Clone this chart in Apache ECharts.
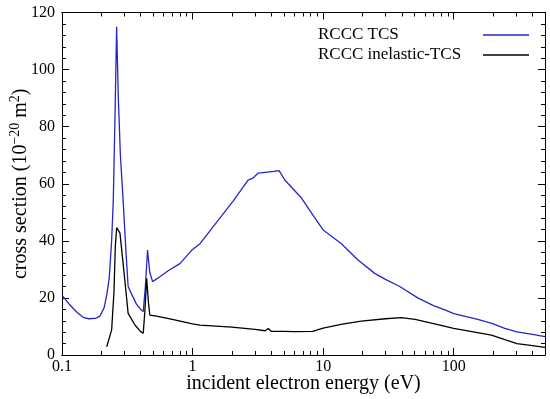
<!DOCTYPE html>
<html>
<head>
<meta charset="utf-8">
<script src="https://cdn.jsdelivr.net/npm/echarts@6/dist/echarts.min.js"></script>
<style>html,body{margin:0;padding:0;background:#fff}#c{width:550px;height:399px}</style>
</head>
<body>
<div id="c"></div>
<script>
// Data (energy in eV, cross section in 1e-20 m^2)
const tcsE = [0.1,0.115,0.13,0.145,0.16,0.18,0.195,0.21,0.22,0.23,0.24,0.247,0.255,0.262,0.27,0.28,0.294,0.31,0.321,0.34,0.37,0.4,0.419,0.435,0.452,0.47,0.494,0.562,0.65,0.8,1.0,1.14,1.5,2.05,2.66,2.9,3.0,3.17,3.6,4.2,4.6,5.08,6.83,8.5,10,13.8,18.5,24.8,30,38.6,53,70,85.6,100,150,196,246,305,400,500];
const tcsV = [21,17.5,15,13.2,12.7,12.8,13.6,16.5,21,27,40,54,85,115,90,70,54,35,24,21.5,18,16,15.2,24,36.8,29,25.7,27.4,29.5,32,37,39,46,54,61.3,62,62.3,63.7,64,64.3,64.6,61.3,55,48.5,43.8,39,33.3,28.6,26.5,24,20,17.3,15.8,14.5,12.6,11.1,9.3,8.1,7.2,6.4];
const inelE = [0.22,0.24,0.25,0.256,0.262,0.278,0.3,0.321,0.362,0.4,0.419,0.432,0.445,0.46,0.471,0.53,0.7,1.0,1.14,2.0,3.0,3.6,3.8,4.0,5.0,6.0,8.3,10,14,19.6,30,39.7,50.6,70,100,194,250,305,400,500];
const inelV = [2.9,8.8,22,38,44.6,42.7,28,14.6,10.5,8.2,7.6,16,26.9,18,14,13.6,12.5,10.9,10.5,9.8,9.0,8.5,9.3,8.3,8.3,8.2,8.3,9.4,10.8,11.9,12.7,13.1,12.5,11,9.3,7,5.3,4,3.3,2.7];
const seriesNames = ['RCCC TCS','RCCC inelastic-TCS'];
const xMajor = [0.1,1,10,100];
const xMinor = [0.2,0.3,0.4,0.5,0.6,0.7,0.8,0.9,2,3,4,5,6,7,8,9,20,30,40,50,60,70,80,90,200,300,400,500];

const font = 'Liberation Serif';
const pair = (xs, ys) => xs.map((x, i) => [x, ys[i]]);

const xBase = (pos, showLabel, ticks, len) => ({
  type: 'log', logBase: 10, min: 0.1, max: 500, position: pos,
  axisLine: {show: true, onZero: false, lineStyle: {color: '#000', width: 1}},
  axisTick: {show: true, inside: true, length: len, customValues: ticks, lineStyle: {color: '#000'}},
  axisLabel: {show: showLabel, customValues: xMajor, fontFamily: font, fontSize: 16, color: '#000', margin: 4,
    formatter: v => String(v)},
  splitLine: {show: false}, minorTick: {show: false}
});
const yBase = (pos, showLabel) => ({
  type: 'value', min: 0, max: 120, interval: 20, position: pos,
  axisLine: {show: true, onZero: false, lineStyle: {color: '#000', width: 1}},
  axisTick: {show: true, inside: true, length: 7, lineStyle: {color: '#000'}},
  minorTick: {show: true, splitNumber: 5, length: 4, lineStyle: {color: '#000'}},
  axisLabel: {show: showLabel, fontFamily: font, fontSize: 16, color: '#000', margin: 7},
  splitLine: {show: false}
});

const xAxes = [
  Object.assign(xBase('bottom', true, xMajor, 7), {
    name: 'incident electron energy (eV)', nameLocation: 'middle', nameGap: 19, nameMoveOverlap: false,
    nameTextStyle: {fontFamily: font, fontSize: 20, color: '#000'}
  }),
  xBase('bottom', false, xMinor, 4),
  xBase('top', false, xMajor, 7),
  xBase('top', false, xMinor, 4)
];
const yAxes = [
  Object.assign(yBase('left', true), {
    name: '{a|cross section (10}{s|−20}{a| m}{s|2}{a|)}', nameLocation: 'middle', nameGap: 29, nameMoveOverlap: false,
    nameTextStyle: {fontFamily: font, fontSize: 20, color: '#000',
      rich: {a: {fontFamily: font, fontSize: 20, color: '#000'},
             s: {fontFamily: font, fontSize: 14, color: '#000', padding: [0, 0, 11, 0]}}}
  }),
  yBase('right', false)
];

const chart = echarts.init(document.getElementById('c'), null, {renderer: 'canvas'});
chart.setOption({
  animation: false,
  backgroundColor: '#fff',
  grid: {left: 62, right: 5, top: 12.5, bottom: 44, containLabel: false, outerBoundsMode: 'none'},
  xAxis: xAxes,
  yAxis: yAxes,
  legend: {
    orient: 'vertical', left: 318, top: 25, align: 'right', padding: 0,
    icon: 'rect', itemWidth: 46, itemHeight: 1.5, itemGap: 0,
    formatter: name => '{n|' + name + '}',
    textStyle: {fontFamily: font, fontSize: 17, color: '#000', lineHeight: 20,
      rich: {n: {fontFamily: font, fontSize: 17, color: '#000', width: 160, align: 'left', lineHeight: 20}}},
    data: seriesNames
  },
  series: [
    {name: seriesNames[0], type: 'line', symbol: 'none', xAxisIndex: 0, yAxisIndex: 0,
     lineStyle: {color: '#2626c8', width: 1.3}, itemStyle: {color: '#2626c8'}, data: pair(tcsE, tcsV)},
    {name: seriesNames[1], type: 'line', symbol: 'none', xAxisIndex: 0, yAxisIndex: 0,
     lineStyle: {color: '#000', width: 1.3}, itemStyle: {color: '#000'}, data: pair(inelE, inelV)}
  ]
});
</script>
</body>
</html>
